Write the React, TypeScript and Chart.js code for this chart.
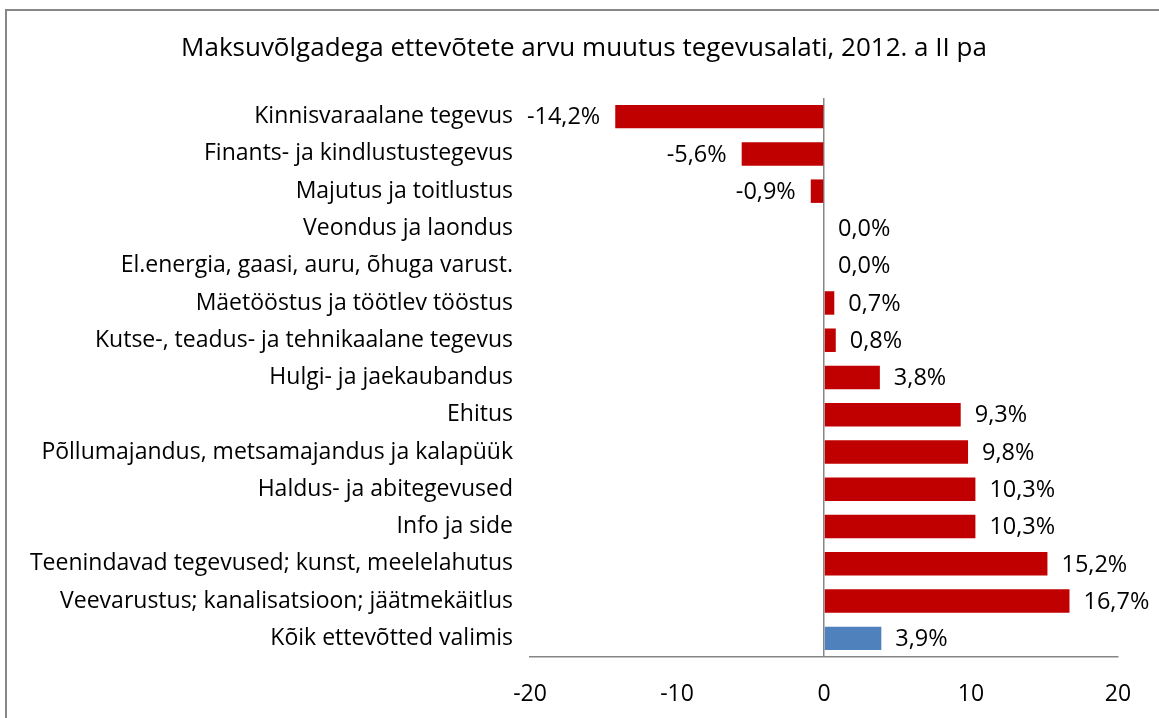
import React, { useEffect, useRef } from "react";
import { Chart, registerables } from "chart.js";

Chart.register(...registerables);

const categories: string[] = [
  "Kinnisvaraalane tegevus",
  "Finants- ja kindlustustegevus",
  "Majutus ja toitlustus",
  "Veondus ja laondus",
  "El.energia, gaasi, auru, õhuga varust.",
  "Mäetööstus ja töötlev tööstus",
  "Kutse-, teadus- ja tehnikaalane tegevus",
  "Hulgi- ja jaekaubandus",
  "Ehitus",
  "Põllumajandus, metsamajandus ja kalapüük",
  "Haldus- ja abitegevused",
  "Info ja side",
  "Teenindavad tegevused; kunst, meelelahutus",
  "Veevarustus; kanalisatsioon; jäätmekäitlus",
  "Kõik ettevõtted valimis",
];

const values: number[] = [-14.2, -5.6, -0.9, 0.0, 0.0, 0.7, 0.8, 3.8, 9.3, 9.8, 10.3, 10.3, 15.2, 16.7, 3.9];

const xTicks: number[] = [-20, -10, 0, 10, 20];

const title = "Maksuvõlgadega ettevõtete arvu muutus tegevusalati, 2012. a II pa";

const FONT = "'Open Sans'";
const RED = "#C00000";
const BLUE = "#4F81BD";
const GRAY = "#868686";

const fmt = (v: number) => v.toFixed(1).replace(".", ",") + "%";

const titlePlugin = {
  id: "offsetTitle",
  afterDraw(chart: any) {
    const ctx = chart.ctx;
    ctx.save();
    ctx.font = `26px ${FONT}`;
    ctx.fillStyle = "#000";
    ctx.textAlign = "center";
    ctx.textBaseline = "middle";
    ctx.fillText(title, 584, 49);
    ctx.restore();
  },
};

const labelPlugin = {
  id: "barLabels",
  afterDatasetsDraw(chart: any) {
    const ctx = chart.ctx;
    const meta = chart.getDatasetMeta(0);
    const xScale = chart.scales.x;
    ctx.save();
    ctx.font = `23.5px ${FONT}`;
    ctx.fillStyle = "#000";
    ctx.textBaseline = "middle";
    meta.data.forEach((el: any, i: number) => {
      const v = values[i];
      const xEnd = xScale.getPixelForValue(v);
      const y = el.y + 1;
      if (v < 0) {
        ctx.textAlign = "right";
        ctx.fillText(fmt(v), xEnd - 15, y);
      } else {
        ctx.textAlign = "left";
        ctx.fillText(fmt(v), xEnd + 14, y);
      }
    });
    ctx.restore();
  },
};

export default function App() {
  const ref = useRef<HTMLCanvasElement | null>(null);
  useEffect(() => {
    if (!ref.current) return;
    const chart = new Chart(ref.current, {
      type: "bar",
      data: {
        labels: categories,
        datasets: [
          {
            data: values,
            backgroundColor: values.map((_, i) => (i === values.length - 1 ? BLUE : RED)),
            borderWidth: 0,
            barPercentage: 0.63,
            categoryPercentage: 1,
          },
        ],
      },
      options: {
        indexAxis: "y",
        responsive: false,
        animation: false,
        layout: { padding: { left: 0, right: 41, top: 98, bottom: 0 } },
        plugins: {
          legend: { display: false },
          tooltip: { enabled: false },
          title: { display: false },
        },
        scales: {
          x: {
            min: -20,
            max: 20,
            afterBuildTicks: (scale: any) => {
              scale.ticks = xTicks.map((v) => ({ value: v }));
            },
            afterFit: (scale: any) => {
              scale.height = 61;
            },
            grid: {
              drawTicks: false,
              color: (c: any) => (c.tick && c.tick.value === 0 ? GRAY : "rgba(0,0,0,0)"),
              lineWidth: 1.5,
            },
            border: { display: true, color: GRAY, width: 1.5 },
            ticks: {
              color: "#000",
              font: { family: FONT, size: 23 },
              padding: 24,
              maxRotation: 0,
            },
          },
          y: {
            afterFit: (scale: any) => {
              scale.width = 530;
            },
            grid: { display: false, drawTicks: false },
            border: { display: false },
            ticks: {
              color: "#000",
              font: { family: FONT, size: 23 },
              padding: 17,
              autoSkip: false,
            },
          },
        },
      },
      plugins: [labelPlugin, titlePlugin],
    });
    return () => chart.destroy();
  }, []);

  return (
    <>
      <div
        style={{
          position: "fixed",
          left: 5,
          top: 9,
          width: 1400,
          height: 900,
          border: "2px solid #878787",
          pointerEvents: "none",
        }}
      />
      <div style={{ position: "fixed", left: 0, top: 0, width: 1159, height: 718 }}>
        <canvas ref={ref} width={1159} height={718} />
      </div>
    </>
  );
}
